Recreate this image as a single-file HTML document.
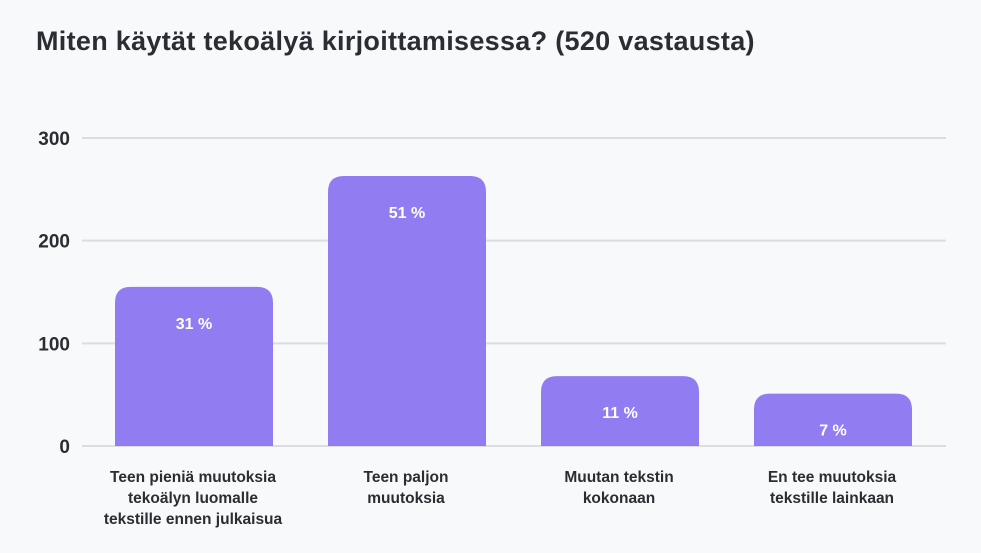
<!DOCTYPE html>
<html><head><meta charset="utf-8"><style>
body{margin:0;background:#f8f9fb;font-family:"Liberation Sans",sans-serif;}
#wrap{position:relative;width:981px;height:553px;overflow:hidden;background:#f8f9fb;}
h1{position:absolute;left:36px;top:26px;margin:0;font-size:27px;font-weight:bold;color:#2b2d33;letter-spacing:0.3px;}
</style></head><body>
<div id="wrap">
<h1>Miten käytät tekoälyä kirjoittamisessa? (520 vastausta)</h1>
<svg id="chart" width="981" height="553" style="position:absolute;left:0;top:0"></svg>
</div>
<script>
const categories=[["Teen pieniä muutoksia","tekoälyn luomalle","tekstille ennen julkaisua"],["Teen paljon","muutoksia"],["Muutan tekstin","kokonaan"],["En tee muutoksia","tekstille lainkaan"]];
const values=[155,263,68,51];
const labels=["31 %","51 %","11 %","7 %"];
const ticks=[0,100,200,300];
const NS="http://www.w3.org/2000/svg";
const svg=document.getElementById('chart');
const y0=446,pxPer=(446-138)/300;
const y=v=>y0-v*pxPer;
const x=i=>115+i*213;const bw=158;
function mk(t,a){const e=document.createElementNS(NS,t);for(const k in a)e.setAttribute(k,a[k]);svg.appendChild(e);return e;}
ticks.forEach(t=>{
 const l=mk('line',{x1:82,x2:946,y1:y(t),y2:y(t),stroke:'#dcdde1','stroke-width':2});
 
 
 const tx=mk('text',{x:70,y:y(t)+7,'text-anchor':'end','font-size':19,'font-weight':'bold',fill:'#2b2d33','font-family':'Liberation Sans, sans-serif'});
 tx.textContent=t;
 
 
});
values.forEach((v,i)=>{
 const top=y(v),h=y0-top,r=Math.min(16,h);
 const p=mk('path',{d:`M${x(i)},${y0}V${top+r}Q${x(i)},${top} ${x(i)+r},${top}H${x(i)+bw-r}Q${x(i)+bw},${top} ${x(i)+bw},${top+r}V${y0}Z`,fill:'#917cf2'});
 
 
 const t=mk('text',{x:x(i)+bw/2,y:top+42,'text-anchor':'middle','font-size':16,'font-weight':'bold',fill:'#ffffff','font-family':'Liberation Sans, sans-serif'});
 t.textContent=labels[i];
 
 
 categories[i].forEach((line,j)=>{
  const c=mk('text',{x:x(i)+bw/2-1,y:482+j*21,'text-anchor':'middle','font-size':15.5,'font-weight':'bold',fill:'#2b2d33','font-family':'Liberation Sans, sans-serif'});
  c.textContent=line;
  
  
 });
});
</script>
</body></html>
